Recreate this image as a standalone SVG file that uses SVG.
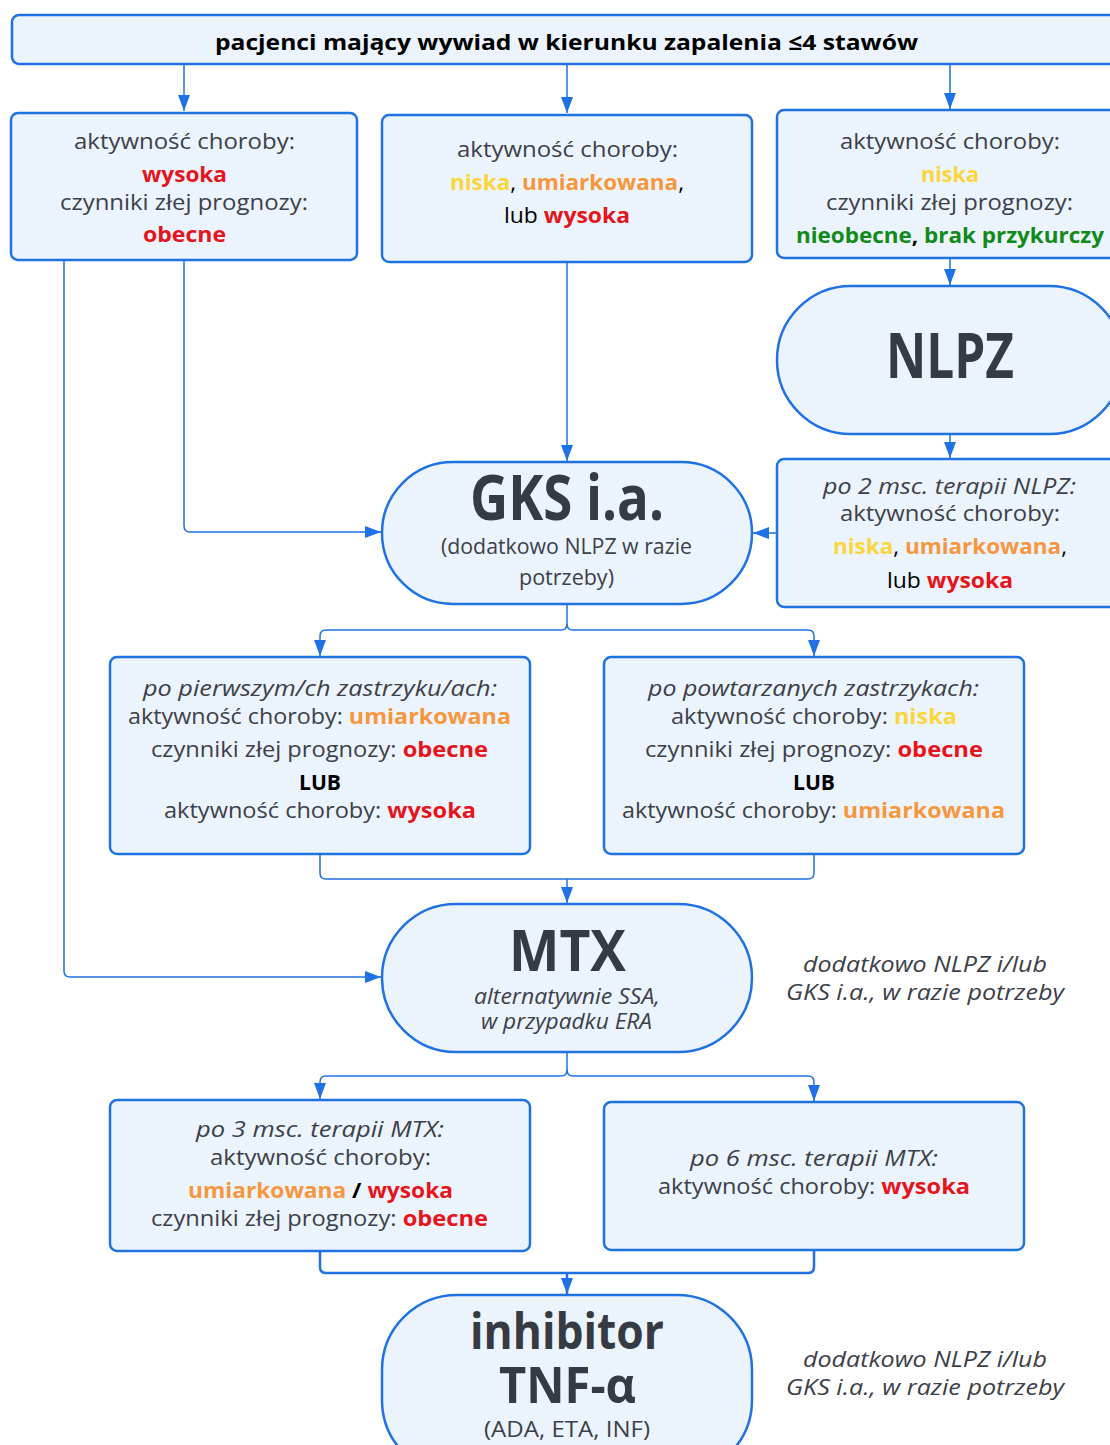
<svg xmlns="http://www.w3.org/2000/svg" width="1110" height="1445" viewBox="0 0 1110 1445">
<style>
.box{fill:#ebf3fd;stroke:#1f72e4;stroke-width:2.5}
.c{fill:none;stroke:#1f72e4;stroke-width:1.5}
.c2{fill:none;stroke:#1f72e4;stroke-width:2.5}
text{font-family:"Open Sans","Noto Sans",sans-serif;font-size:22px;fill:#3c4048;text-anchor:middle}
.t{font-weight:700;fill:#000}
.big{font-weight:700;font-size:62px;fill:#363a42}
.big1{font-weight:700;font-size:57px;fill:#363a42}
.big2{font-weight:700;font-size:51px;fill:#363a42}
.i{font-style:italic}
.b{font-weight:700}
.r{fill:#e6141b;font-weight:700}
.y{fill:#fcd53a;font-weight:700}
.o{fill:#f7963c;font-weight:700}
.g{fill:#118a1a;font-weight:700}
.k{fill:#000}
</style>
<defs>
<marker id="ah" viewBox="0 0 16 12" refX="16" refY="6" markerWidth="16" markerHeight="12" markerUnits="userSpaceOnUse" orient="auto">
<path d="M0,0 L16,6 L0,12 z" fill="#1f72e4"/>
</marker>
</defs>

<g id="connectors">
<path class="c" d="M184 64 V111" marker-end="url(#ah)"/>
<path class="c" d="M567 64 V113" marker-end="url(#ah)"/>
<path class="c" d="M950 64 V109" marker-end="url(#ah)"/>
<path class="c" d="M950 258 V285" marker-end="url(#ah)"/>
<path class="c" d="M950 434 V458" marker-end="url(#ah)"/>
<path class="c" d="M777 533 H753" marker-end="url(#ah)"/>
<path class="c" d="M567 262 V461" marker-end="url(#ah)"/>
<path class="c" d="M184 260 V526 Q184 532 190 532 H381" marker-end="url(#ah)"/>
<path class="c" d="M64 260 V971 Q64 977 70 977 H381" marker-end="url(#ah)"/>
<path class="c" d="M567 604 V624 Q567 630 561 630 H326 Q320 630 320 636 V656" marker-end="url(#ah)"/>
<path class="c" d="M567 624 Q567 630 573 630 H808 Q814 630 814 636 V656" marker-end="url(#ah)"/>
<path class="c" d="M320 854 V873 Q320 879 326 879 H808 Q814 879 814 873 V854"/>
<path class="c" d="M567 879 V903" marker-end="url(#ah)"/>
<path class="c" d="M567 1052 V1070 Q567 1076 561 1076 H326 Q320 1076 320 1082 V1099" marker-end="url(#ah)"/>
<path class="c" d="M567 1070 Q567 1076 573 1076 H808 Q814 1076 814 1082 V1101" marker-end="url(#ah)"/>
<path class="c2" d="M320 1251 V1267 Q320 1273 326 1273 H808 Q814 1273 814 1267 V1250"/>
<path class="c2" d="M567 1273 V1294" marker-end="url(#ah)"/>
</g>

<g id="top">
<rect class="box" x="12" y="15" width="1110" height="49" rx="7"/>
<text class="t" x="566.5" y="50" textLength="703" lengthAdjust="spacingAndGlyphs">pacjenci mający wywiad w kierunku zapalenia ≤4 stawów</text>
</g>

<g id="box1">
<rect class="box" x="11" y="113" width="346" height="147" rx="7"/>
<text x="184.5" y="149" textLength="221" lengthAdjust="spacingAndGlyphs">aktywność choroby:</text>
<text class="r" x="184.5" y="182" textLength="85" lengthAdjust="spacingAndGlyphs">wysoka</text>
<text x="184" y="210" textLength="248" lengthAdjust="spacingAndGlyphs">czynniki złej prognozy:</text>
<text class="r" x="184.5" y="242" textLength="83" lengthAdjust="spacingAndGlyphs">obecne</text>
</g>

<g id="box2">
<rect class="box" x="382" y="115" width="370" height="147" rx="7"/>
<text x="567.5" y="157" textLength="221" lengthAdjust="spacingAndGlyphs">aktywność choroby:</text>
<text x="567" y="190" textLength="234" lengthAdjust="spacingAndGlyphs"><tspan class="y">niska</tspan><tspan class="k">, </tspan><tspan class="o">umiarkowana</tspan><tspan class="k">,</tspan></text>
<text x="567" y="223" textLength="126" lengthAdjust="spacingAndGlyphs"><tspan class="k">lub </tspan><tspan class="r">wysoka</tspan></text>
</g>

<g id="box3">
<rect class="box" x="777" y="110" width="345" height="148" rx="7"/>
<text x="950" y="149" textLength="220" lengthAdjust="spacingAndGlyphs">aktywność choroby:</text>
<text class="y" x="950" y="182" textLength="58" lengthAdjust="spacingAndGlyphs">niska</text>
<text x="949.5" y="210" textLength="247" lengthAdjust="spacingAndGlyphs">czynniki złej prognozy:</text>
<text x="950" y="243" textLength="308" lengthAdjust="spacingAndGlyphs"><tspan class="g">nieobecne</tspan><tspan class="k b">, </tspan><tspan class="g">brak przykurczy</tspan></text>
</g>

<g id="nlpz">
<rect class="box" x="777" y="286" width="346" height="148" rx="74" ry="74"/>
<text class="big" x="950" y="378" textLength="128" lengthAdjust="spacingAndGlyphs">NLPZ</text>
</g>

<g id="box4">
<rect class="box" x="777" y="459" width="345" height="148" rx="7"/>
<text class="i" x="949.5" y="494" textLength="253" lengthAdjust="spacingAndGlyphs">po 2 msc. terapii NLPZ:</text>
<text x="950" y="521" textLength="220" lengthAdjust="spacingAndGlyphs">aktywność choroby:</text>
<text x="950" y="554" textLength="234" lengthAdjust="spacingAndGlyphs"><tspan class="y">niska</tspan><tspan class="k">, </tspan><tspan class="o">umiarkowana</tspan><tspan class="k">,</tspan></text>
<text x="950" y="588" textLength="126" lengthAdjust="spacingAndGlyphs"><tspan class="k">lub </tspan><tspan class="r">wysoka</tspan></text>
</g>

<g id="gks">
<rect class="box" x="382" y="462" width="370" height="142" rx="71" ry="71"/>
<text class="big" x="567" y="520" textLength="194" lengthAdjust="spacingAndGlyphs">GKS i.a.</text>
<text x="566.5" y="554" textLength="251" lengthAdjust="spacingAndGlyphs">(dodatkowo NLPZ w razie</text>
<text x="566.5" y="585" textLength="95" lengthAdjust="spacingAndGlyphs">potrzeby)</text>
</g>

<g id="box5">
<rect class="box" x="110" y="657" width="420" height="197" rx="7"/>
<text class="i" x="320" y="696" textLength="354" lengthAdjust="spacingAndGlyphs">po pierwszym/ch zastrzyku/ach:</text>
<text x="319.5" y="724" textLength="383" lengthAdjust="spacingAndGlyphs">aktywność choroby: <tspan class="o">umiarkowana</tspan></text>
<text x="319.5" y="757" textLength="337" lengthAdjust="spacingAndGlyphs">czynniki złej prognozy: <tspan class="r">obecne</tspan></text>
<text class="t" x="320" y="790" textLength="42" lengthAdjust="spacingAndGlyphs">LUB</text>
<text x="320" y="818" textLength="312" lengthAdjust="spacingAndGlyphs">aktywność choroby: <tspan class="r">wysoka</tspan></text>
</g>

<g id="box6">
<rect class="box" x="604" y="657" width="420" height="197" rx="7"/>
<text class="i" x="813.5" y="696" textLength="331" lengthAdjust="spacingAndGlyphs">po powtarzanych zastrzykach:</text>
<text x="814" y="724" textLength="286" lengthAdjust="spacingAndGlyphs">aktywność choroby: <tspan class="y">niska</tspan></text>
<text x="814" y="757" textLength="338" lengthAdjust="spacingAndGlyphs">czynniki złej prognozy: <tspan class="r">obecne</tspan></text>
<text class="t" x="814" y="790" textLength="42" lengthAdjust="spacingAndGlyphs">LUB</text>
<text x="813.5" y="818" textLength="383" lengthAdjust="spacingAndGlyphs">aktywność choroby: <tspan class="o">umiarkowana</tspan></text>
</g>

<g id="mtx">
<rect class="box" x="382" y="904" width="370" height="148" rx="74" ry="74"/>
<text class="big1" x="567.5" y="971" textLength="117" lengthAdjust="spacingAndGlyphs">MTX</text>
<text class="i" x="567" y="1004" textLength="186" lengthAdjust="spacingAndGlyphs">alternatywnie SSA,</text>
<text class="i" x="566.5" y="1029" textLength="171" lengthAdjust="spacingAndGlyphs">w przypadku ERA</text>
</g>

<g id="note1">
<text class="i" x="925" y="972" textLength="244" lengthAdjust="spacingAndGlyphs">dodatkowo NLPZ i/lub</text>
<text class="i" x="925" y="1000" textLength="278" lengthAdjust="spacingAndGlyphs">GKS i.a., w razie potrzeby</text>
</g>

<g id="box7">
<rect class="box" x="110" y="1100" width="420" height="151" rx="7"/>
<text class="i" x="320" y="1137" textLength="248" lengthAdjust="spacingAndGlyphs">po 3 msc. terapii MTX:</text>
<text x="320.5" y="1165" textLength="221" lengthAdjust="spacingAndGlyphs">aktywność choroby:</text>
<text x="320.5" y="1198" textLength="265" lengthAdjust="spacingAndGlyphs"><tspan class="o">umiarkowana</tspan><tspan class="k b"> / </tspan><tspan class="r">wysoka</tspan></text>
<text x="319.5" y="1226" textLength="337" lengthAdjust="spacingAndGlyphs">czynniki złej prognozy: <tspan class="r">obecne</tspan></text>
</g>

<g id="box8">
<rect class="box" x="604" y="1102" width="420" height="148" rx="7"/>
<text class="i" x="814" y="1166" textLength="248" lengthAdjust="spacingAndGlyphs">po 6 msc. terapii MTX:</text>
<text x="814" y="1194" textLength="312" lengthAdjust="spacingAndGlyphs">aktywność choroby: <tspan class="r">wysoka</tspan></text>
</g>

<g id="tnf">
<rect class="box" x="382" y="1295" width="370" height="180" rx="75" ry="75"/>
<text class="big2" x="567" y="1349" textLength="194" lengthAdjust="spacingAndGlyphs">inhibitor</text>
<text class="big2" x="567.5" y="1403" textLength="137" lengthAdjust="spacingAndGlyphs">TNF-α</text>
<text x="567" y="1437" textLength="166" lengthAdjust="spacingAndGlyphs">(ADA, ETA, INF)</text>
</g>

<g id="note2">
<text class="i" x="925" y="1367" textLength="244" lengthAdjust="spacingAndGlyphs">dodatkowo NLPZ i/lub</text>
<text class="i" x="925" y="1395" textLength="278" lengthAdjust="spacingAndGlyphs">GKS i.a., w razie potrzeby</text>
</g>
</svg>
